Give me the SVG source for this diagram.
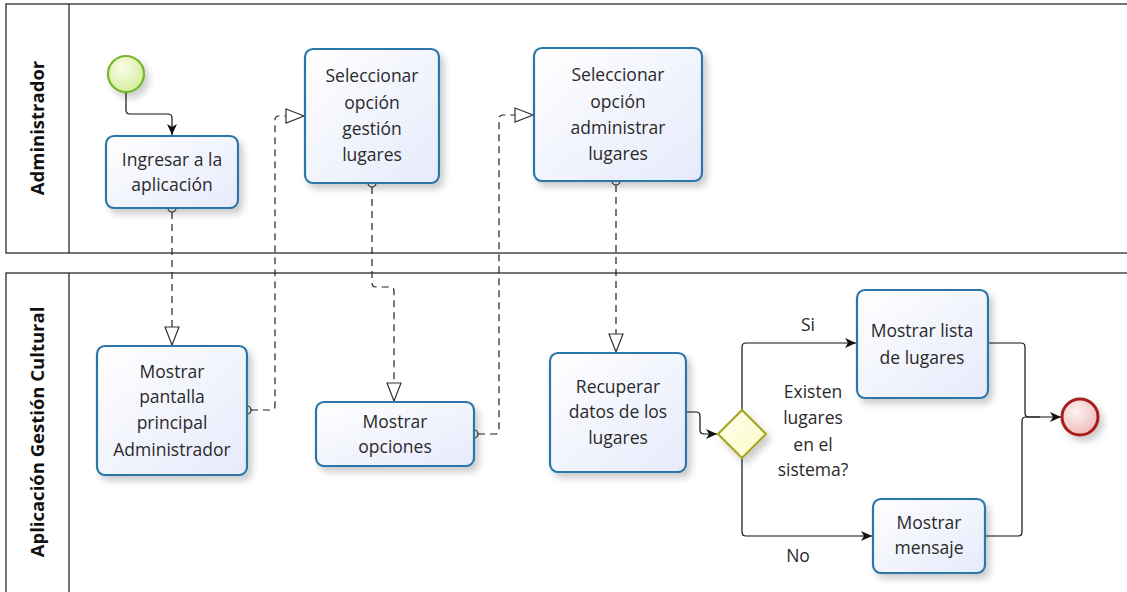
<svg xmlns="http://www.w3.org/2000/svg" width="1127" height="592" viewBox="0 0 1127 592">
  <style>
    .pool { fill: #ffffff; stroke: #2b2b2b; stroke-width: 1.3; }
    .lane-label { font-family: "Open Sans", "Noto Sans", sans-serif; font-size: 18.5px; font-weight: bold; fill: #111; text-anchor: middle; }
    .task rect { fill: url(#taskFill); stroke: #2a77a8; stroke-width: 2.2; filter: url(#shadow); }
    .label { font-family: "Open Sans", "Noto Sans", sans-serif; font-size: 17.5px; fill: #2a2a2a; text-anchor: middle; }
    .seq { fill: none; stroke: #111; stroke-width: 1.2; }
    .msg { fill: none; stroke: #222; stroke-width: 1.2; stroke-dasharray: 7 5; }
    .msg-start { fill: #fff; stroke: #333; stroke-width: 1.2; }
  </style>
  <defs>
    <linearGradient id="taskFill" x1="0" y1="0" x2="1" y2="1">
      <stop offset="0" stop-color="#ffffff"/>
      <stop offset="1" stop-color="#e6eafb"/>
    </linearGradient>
    <radialGradient id="startFill" cx="0.4" cy="0.35" r="0.7">
      <stop offset="0" stop-color="#fbfde8"/>
      <stop offset="1" stop-color="#d2ec9a"/>
    </radialGradient>
    <radialGradient id="endFill" cx="0.4" cy="0.35" r="0.7">
      <stop offset="0" stop-color="#fdf2f2"/>
      <stop offset="1" stop-color="#f0b8b8"/>
    </radialGradient>
    <linearGradient id="gwFill" x1="0" y1="0" x2="1" y2="1">
      <stop offset="0" stop-color="#ffffee"/>
      <stop offset="1" stop-color="#fbfbc8"/>
    </linearGradient>
    <filter id="shadow" x="-20%" y="-20%" width="150%" height="150%">
      <feDropShadow dx="4" dy="5" stdDeviation="3.5" flood-color="#000" flood-opacity="0.2"/>
    </filter>
    <marker id="seqArrow" viewBox="0 0 12 12" refX="11" refY="6" markerWidth="12" markerHeight="12" markerUnits="userSpaceOnUse" orient="auto">
      <path d="M0,1 L11,6 L0,11 L3,6 Z" fill="#111"/>
    </marker>
    <marker id="msgArrow" viewBox="0 0 20 16" refX="19" refY="8" markerWidth="20" markerHeight="16" markerUnits="userSpaceOnUse" orient="auto">
      <path d="M1,1 L19,8 L1,15 Z" fill="#fff" stroke="#333" stroke-width="1.2"/>
    </marker>
  </defs>

  <!-- Pools -->
  <g id="pool-admin">
    <rect class="pool" x="6" y="4" width="1130" height="249"/>
    <line x1="69" y1="4" x2="69" y2="253" stroke="#2b2b2b" stroke-width="1.3"/>
    <text class="lane-label" transform="translate(44,128) rotate(-90)">Administrador</text>
  </g>
  <g id="pool-app">
    <rect class="pool" x="6" y="273" width="1130" height="330"/>
    <line x1="69" y1="273" x2="69" y2="603" stroke="#2b2b2b" stroke-width="1.3"/>
    <text class="lane-label" transform="translate(44,432) rotate(-90)">Aplicación Gestión Cultural</text>
  </g>

  <!-- Connectors -->
  <g id="connectors">
    <!-- sequence flows -->
    <path class="seq" d="M126,92 V110 Q126,114 130,114 H168 Q172,114 172,118 V135" marker-end="url(#seqArrow)"/>
    <path class="seq" d="M686,412 H696 Q700,412 700,416 V430 Q700,434 704,434 H717" marker-end="url(#seqArrow)"/>
    <path class="seq" d="M742,410 V347 Q742,343 746,343 H856" marker-end="url(#seqArrow)"/>
    <path class="seq" d="M742,458 V532 Q742,536 746,536 H872" marker-end="url(#seqArrow)"/>
    <path class="seq" d="M988,343 H1021 Q1025,343 1025,347 V413 Q1025,417 1029,417 H1061" marker-end="url(#seqArrow)"/>
    <path class="seq" d="M985,536 H1018 Q1022,536 1022,532 V421 Q1022,417 1026,417 H1040"/>

    <!-- message flows -->
    <path class="msg" d="M172,212 V345" marker-end="url(#msgArrow)"/>
    <circle class="msg-start" cx="172" cy="208" r="4"/>

    <path class="msg" d="M251,410 H271 Q275,410 275,406 V120 Q275,116 279,116 H304" marker-end="url(#msgArrow)"/>
    <circle class="msg-start" cx="247" cy="410" r="4"/>

    <path class="msg" d="M372,187 V283 Q372,287 376,287 H390 Q394,287 394,291 V401" marker-end="url(#msgArrow)"/>
    <circle class="msg-start" cx="372" cy="183" r="4"/>

    <path class="msg" d="M478,434 H495 Q499,434 499,430 V119 Q499,115 503,115 H533" marker-end="url(#msgArrow)"/>
    <circle class="msg-start" cx="474" cy="434" r="4"/>

    <path class="msg" d="M616,185 V352" marker-end="url(#msgArrow)"/>
    <circle class="msg-start" cx="616" cy="181" r="4"/>

    <!-- flow labels -->
    <text class="label" x="808" y="325" dy="0.35em">Si</text>
    <text class="label" x="798" y="556" dy="0.35em">No</text>
  </g>

  <!-- Nodes -->
  <g id="start-event">
    <circle cx="126" cy="74" r="18" fill="url(#startFill)" stroke="#72b72a" stroke-width="2.2" filter="url(#shadow)"/>
  </g>

  <g id="task-ingresar" class="task">
    <rect x="106" y="136" width="132" height="72" rx="8"/>
    <text class="label" x="172" y="160" dy="0.35em">Ingresar a la</text>
    <text class="label" x="172" y="185" dy="0.35em">aplicación</text>
  </g>

  <g id="task-sel-gestion" class="task">
    <rect x="305" y="49" width="134" height="134" rx="8"/>
    <text class="label" x="372" y="76" dy="0.35em">Seleccionar</text>
    <text class="label" x="372" y="103" dy="0.35em">opción</text>
    <text class="label" x="372" y="129" dy="0.35em">gestión</text>
    <text class="label" x="372" y="155" dy="0.35em">lugares</text>
  </g>

  <g id="task-sel-administrar" class="task">
    <rect x="534" y="48" width="168" height="133" rx="8"/>
    <text class="label" x="618" y="75" dy="0.35em">Seleccionar</text>
    <text class="label" x="618" y="102" dy="0.35em">opción</text>
    <text class="label" x="618" y="128" dy="0.35em">administrar</text>
    <text class="label" x="618" y="154" dy="0.35em">lugares</text>
  </g>

  <g id="task-pantalla" class="task">
    <rect x="97" y="346" width="150" height="129" rx="8"/>
    <text class="label" x="172" y="372" dy="0.35em">Mostrar</text>
    <text class="label" x="172" y="397" dy="0.35em">pantalla</text>
    <text class="label" x="172" y="423" dy="0.35em">principal</text>
    <text class="label" x="172" y="450" dy="0.35em">Administrador</text>
  </g>

  <g id="task-opciones" class="task">
    <rect x="316" y="402" width="158" height="64" rx="8"/>
    <text class="label" x="395" y="422" dy="0.35em">Mostrar</text>
    <text class="label" x="395" y="447" dy="0.35em">opciones</text>
  </g>

  <g id="task-recuperar" class="task">
    <rect x="550" y="353" width="136" height="119" rx="8"/>
    <text class="label" x="618" y="387" dy="0.35em">Recuperar</text>
    <text class="label" x="618" y="412" dy="0.35em">datos de los</text>
    <text class="label" x="618" y="438" dy="0.35em">lugares</text>
  </g>

  <g id="gateway">
    <path d="M742,410 L766,434 L742,458 L718,434 Z" fill="url(#gwFill)" stroke="#a9a524" stroke-width="2.2" filter="url(#shadow)"/>
    <text class="label" x="813" y="392" dy="0.35em">Existen</text>
    <text class="label" x="813" y="418" dy="0.35em">lugares</text>
    <text class="label" x="813" y="445" dy="0.35em">en el</text>
    <text class="label" x="813" y="470" dy="0.35em">sistema?</text>
  </g>

  <g id="task-lista" class="task">
    <rect x="857" y="290" width="131" height="108" rx="8"/>
    <text class="label" x="922" y="331" dy="0.35em">Mostrar lista</text>
    <text class="label" x="922" y="358" dy="0.35em">de lugares</text>
  </g>

  <g id="task-mensaje" class="task">
    <rect x="873" y="499" width="112" height="74" rx="8"/>
    <text class="label" x="929" y="523" dy="0.35em">Mostrar</text>
    <text class="label" x="929" y="548" dy="0.35em">mensaje</text>
  </g>

  <g id="end-event">
    <circle cx="1080" cy="417" r="18" fill="url(#endFill)" stroke="#a81c1c" stroke-width="3" filter="url(#shadow)"/>
  </g>
</svg>
